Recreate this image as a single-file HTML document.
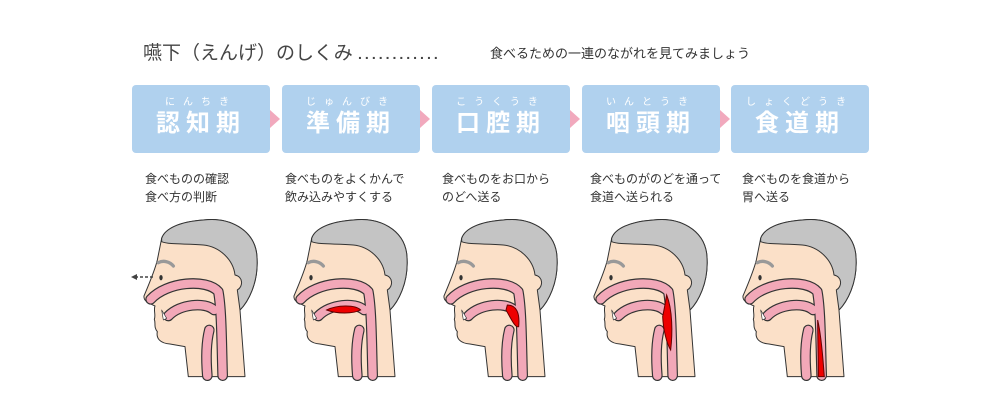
<!DOCTYPE html>
<html><head><meta charset="utf-8"><style>
body{margin:0;width:1000px;height:400px;background:#fff;overflow:hidden;position:relative;font-family:"Liberation Sans","Noto Sans CJK JP",sans-serif;color:#444}
.t{position:absolute;white-space:nowrap}
.box{position:absolute;top:85px;width:138px;height:68px;background:#b0d1ee;border-radius:4px;color:#fff;text-align:center}
.box .f{font-size:10px;letter-spacing:8px;margin-top:11px;height:13px;line-height:13px}
.box .k{font-size:24px;font-weight:bold;letter-spacing:6px;line-height:30px}
.ar{position:absolute;top:110px;width:0;height:0;border-top:9px solid transparent;border-bottom:9px solid transparent;border-left:10px solid #f1a9bd}
.d{position:absolute;top:170px;font-size:12px;line-height:18px;color:#333}
</style></head><body>
<div class="t" style="left:143px;top:38px;font-size:19px;color:#444">嚥下（えんげ）のしくみ <span style="font-size:14px;letter-spacing:3px;font-weight:bold">............</span></div>
<div class="t" style="left:490px;top:43px;font-size:13px;color:#333">食べるための一連のながれを見てみましょう</div>

<div class="box" style="left:132px"><div class="f">にんちき</div><div class="k">認知期</div></div>
<div class="box" style="left:282px"><div class="f">じゅんびき</div><div class="k">準備期</div></div>
<div class="box" style="left:432px"><div class="f">こうくうき</div><div class="k">口腔期</div></div>
<div class="box" style="left:582px"><div class="f">いんとうき</div><div class="k">咽頭期</div></div>
<div class="box" style="left:731px"><div class="f">しょくどうき</div><div class="k">食道期</div></div>
<div class="ar" style="left:270px"></div><div class="ar" style="left:420px"></div><div class="ar" style="left:570px"></div><div class="ar" style="left:720px"></div>

<div class="d" style="left:145px">食べものの確認<br>食べ方の判断</div>
<div class="d" style="left:285px">食べものをよくかんで<br>飲み込みやすくする</div>
<div class="d" style="left:442px">食べものをお口から<br>のどへ送る</div>
<div class="d" style="left:590px">食べものがのどを通って<br>食道へ送られる</div>
<div class="d" style="left:742px">食べものを食道から<br>胃へ送る</div>

<svg width="1000" height="400" style="position:absolute;left:0;top:0">
<defs>
<g id="h" stroke-linejoin="round" stroke-linecap="round">
<path d="M375,500 L360,300 C380,280 420,220 410,130 C400,60 330,20 250,30 C180,35 135,55 125,85 L112,150 C105,180 90,215 72,258 C70,275 90,280 105,288 C100,300 108,315 103,328 C108,340 100,350 112,365 C108,385 120,400 150,402 L195,410 L205,500 Z" fill="#fbe0c8" stroke="#333" stroke-width="3"/>
<path d="M125,85 C135,55 180,35 250,30 C330,20 400,60 410,130 C420,220 380,280 360,300 L352,240 C370,230 370,200 345,195 C340,150 300,110 250,105 C200,100 150,105 125,95 Z" fill="#c4c4c4" stroke="#333" stroke-width="3"/>
<path d="M115,158 C130,150 150,155 160,168" fill="none" stroke="#999" stroke-width="10"/>
<ellipse cx="123" cy="203" rx="5" ry="8" fill="#333"/>
<g fill="none" stroke="#333" stroke-width="32">
<path d="M92,268 C140,215 260,205 295,245 C305,300 305,400 308,497"/>
<path d="M145,318 C180,282 255,275 282,300"/>
<path d="M268,360 C258,400 258,450 262,497"/>
</g>
<g fill="none" stroke="#f2a8b8" stroke-width="25">
<path d="M92,268 C140,215 260,205 295,245 C305,300 305,400 308,497"/>
<path d="M145,318 C180,282 255,275 282,300"/>
<path d="M268,360 C258,400 258,450 262,497"/>
</g>
<path d="M125,300 L130,330 L140,325 Z" fill="#fff" stroke="#333" stroke-width="2"/>
</g>
</defs>
<g transform="translate(120,210) scale(0.3333)"><use href="#h"/></g>
<line x1="135" y1="277" x2="155" y2="277" stroke="#444" stroke-width="1.5" stroke-dasharray="3,2"/><path d="M131,277 L137,274 L137,280 Z" fill="#444"/>
<g transform="translate(270,210) scale(0.3333)"><use href="#h"/><path d="M170,300 C200,285 255,283 272,300 C250,312 200,312 170,300 Z" fill="#e00" stroke="#600" stroke-width="3"/></g>
<g transform="translate(420,210) scale(0.3333)"><use href="#h"/><path d="M262,285 C290,285 300,310 296,350 C285,355 270,320 258,300 Z" fill="#e00" stroke="#600" stroke-width="3"/></g>
<g transform="translate(570,210) scale(0.3333)"><use href="#h"/><path d="M290,255 C308,300 308,370 302,420 C290,400 280,360 278,320 C282,300 286,280 290,255 Z" fill="#e00" stroke="#600" stroke-width="3"/></g>
<g transform="translate(719,210) scale(0.3333)"><use href="#h"/><path d="M296,330 C308,380 312,450 316,500 L298,500 C298,450 296,380 296,330 Z" fill="#e00" stroke="#600" stroke-width="3"/></g>
</svg>
</body></html>
